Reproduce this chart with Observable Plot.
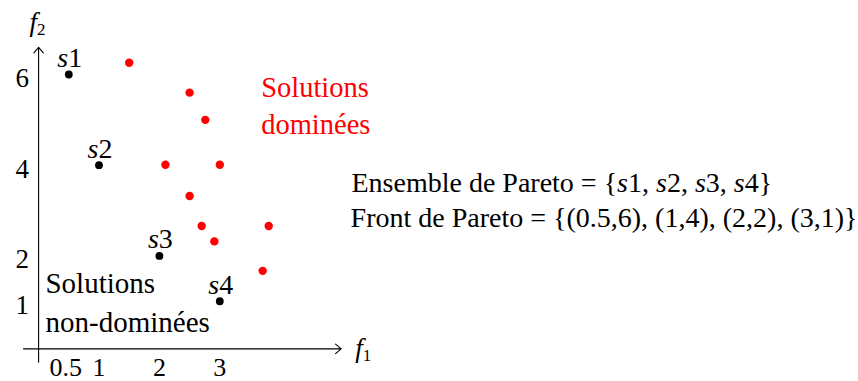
<!DOCTYPE html>
<html>
<head>
<meta charset="utf-8">
<script src="https://cdn.jsdelivr.net/npm/d3@7"></script>
<script src="https://cdn.jsdelivr.net/npm/@observablehq/plot@0.6"></script>
<style>
  html, body { margin: 0; padding: 0; background: white; }
  svg { display: block; }
</style>
</head>
<body>
<div id="chart"></div>
<script>
// ---- data ----
const xTicks = [0.5, 1, 2, 3];
const yTicks = [1, 2, 4, 6];
const paretoNames = ["s1", "s2", "s3", "s4"];
const paretoF1 = [0.5, 1, 2, 3];
const paretoF2 = [6, 4, 2, 1];
const dominatedF1 = [1.5, 2.5, 2.76, 2.1, 3.0, 2.5, 2.7, 3.81, 2.91, 3.71];
const dominatedF2 = [6.26, 5.6, 5.0, 4.01, 4.01, 3.32, 2.66, 2.66, 2.32, 1.67];
const axisNames = ["f1", "f2"];
const setText = "Ensemble de Pareto = {s1, s2, s3, s4}";
const frontText = "Front de Pareto = {(0.5,6), (1,4), (2,2), (3,1)}";
const dominatedLabel = "Solutions\ndominées";
const nonDominatedLabel = "Solutions\nnon-dominées";

// axis extents (data units)
const xAxisExtent = [-0.25, 5.01];
const yAxisExtent = [-0.344, 6.6];
const xAxisAt = -0.05;
const yAxisAt = 0;

const pareto = paretoNames.map((n, i) => ({name: n, f1: paretoF1[i], f2: paretoF2[i]}));
const dominated = dominatedF1.map((v, i) => ({f1: v, f2: dominatedF2[i]}));
const axes = [
  {x1: xAxisExtent[0], y1: xAxisAt, x2: xAxisExtent[1], y2: xAxisAt},
  {x1: yAxisAt, y1: yAxisExtent[0], x2: yAxisAt, y2: yAxisExtent[1]}
];

const FONT = "Liberation Serif, Times New Roman, serif";

const plot = Plot.plot({
  width: 858,
  height: 381,
  margin: 0,
  x: {domain: [0, 3], range: [38.1, 219.3], axis: null},
  y: {domain: [0, 6], range: [346.1, 74.0], axis: null},
  style: {fontFamily: FONT, background: "white", overflow: "visible", color: "black"},
  marks: [
    Plot.arrow(axes, {x1: "x1", y1: "y1", x2: "x2", y2: "y2", stroke: "black", strokeWidth: 1.1, headLength: 10, headAngle: 80}),
    // tick labels
    Plot.text(xTicks.filter(d => d < 1), {x: d => d, y: () => xAxisAt, text: d => String(d), fontSize: 26, lineAnchor: "bottom", dx: -3, dy: 27}),
    Plot.text(xTicks.filter(d => d >= 1), {x: d => d, y: () => xAxisAt, text: d => String(d), fontSize: 26, lineAnchor: "bottom", dy: 27}),
    Plot.text(yTicks, {x: () => yAxisAt, y: d => d, text: d => String(d), fontSize: 27, textAnchor: "end", lineAnchor: "bottom", dx: -9.5, dy: 12.5}),
    // axis names
    Plot.text([axisNames[0]], {x: () => xAxisExtent[1], y: () => xAxisAt, text: d => d, fontSize: 27, textAnchor: "start", lineAnchor: "bottom", dx: 14, dy: 8}),
    Plot.text([axisNames[1]], {x: () => yAxisAt, y: () => yAxisExtent[1], text: d => d, fontSize: 27, textAnchor: "start", lineAnchor: "bottom", dx: -9, dy: -16.5}),
    // points
    Plot.dot(dominated, {x: "f1", y: "f2", r: 4.2, fill: "#ff0000", stroke: null}),
    Plot.dot(pareto, {x: "f1", y: "f2", r: 3.9, fill: "black", stroke: null}),
    Plot.text(pareto, {x: "f1", y: "f2", text: "name", fontSize: 28, lineAnchor: "bottom", dx: 1, dy: -7.5}),
    // annotations
    Plot.text([dominatedLabel], {x: () => 3.685, y: () => 4.695, text: d => d, fill: "#ff0000", fontSize: 28.5, textAnchor: "start", lineAnchor: "bottom", lineHeight: 1.3}),
    Plot.text([nonDominatedLabel], {x: () => 0.114, y: () => 0.313, text: d => d, fontSize: 29, textAnchor: "start", lineAnchor: "bottom", lineHeight: 1.345}),
    Plot.text([setText], {x: () => 5.18, y: () => 3.41, text: d => d, fontSize: 28, textAnchor: "start", lineAnchor: "bottom"}),
    Plot.text([frontText], {x: () => 5.165, y: () => 2.637, text: d => d, fontSize: 28, textAnchor: "start", lineAnchor: "bottom"})
  ]
});

// math styling: italic s before digits; italic f with subscript digit
const NS = "http://www.w3.org/2000/svg";
plot.querySelectorAll("text, tspan").forEach(el => {
  if (el.children.length) return;
  const s = el.textContent;
  if (!/[sf]\d/.test(s)) return;
  el.textContent = "";
  const re = /([sf])(\d)/g;
  let last = 0, m;
  while ((m = re.exec(s))) {
    if (m.index > last) el.appendChild(document.createTextNode(s.slice(last, m.index)));
    const it = document.createElementNS(NS, "tspan");
    it.setAttribute("font-style", "italic");
    it.textContent = m[1];
    el.appendChild(it);
    if (m[1] === "f") {
      const sub = document.createElementNS(NS, "tspan");
      sub.setAttribute("font-size", "17");
      sub.setAttribute("dy", "4");
      sub.textContent = m[2];
      el.appendChild(sub);
    } else {
      el.appendChild(document.createTextNode(m[2]));
    }
    last = re.lastIndex;
  }
  if (last < s.length) el.appendChild(document.createTextNode(s.slice(last)));
});

document.getElementById("chart").appendChild(plot);
</script>
</body>
</html>
